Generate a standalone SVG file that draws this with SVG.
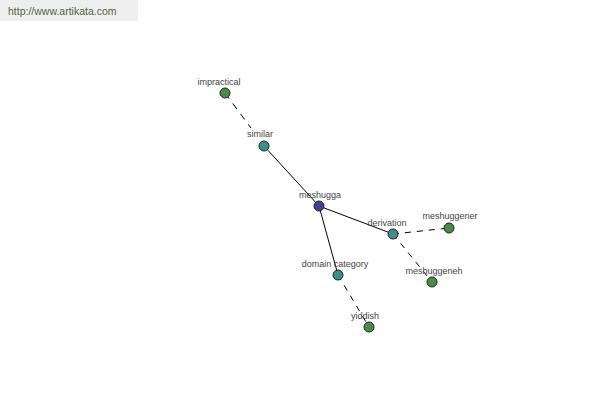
<svg xmlns="http://www.w3.org/2000/svg" width="600" height="400" viewBox="0 0 600 400">
<style>
.lbl{font-family:"Liberation Sans",Arial,sans-serif;font-size:9px;fill:#444;text-anchor:middle}
.solid{stroke:#000;stroke-width:1;fill:none}
.dash{stroke:#000;stroke-width:1;fill:none;stroke-dasharray:6,6}
.n{stroke:#222;stroke-width:1}
.root{fill:#3f4490}
.mid{fill:#3d8f8c}
.leaf{fill:#4a8c47}
</style>
<rect width="600" height="400" fill="#fff"/>
<rect x="0" y="0" width="138" height="21" fill="#eeeeee"/>
<text x="8" y="15" font-family="'Liberation Sans',Arial,sans-serif" font-size="10.5" fill="#4f6641">http://www.artikata.com</text>
<g id="connectors">
<line class="solid" x1="319" y1="206" x2="264" y2="146"/>
<line class="solid" x1="319" y1="206" x2="393" y2="234"/>
<line class="solid" x1="319" y1="206" x2="338" y2="275"/>
<line class="dash" x1="225" y1="93" x2="251" y2="128" style="stroke-dasharray:7,6"/>
<line class="dash" x1="393" y1="234" x2="449" y2="228"/>
<line class="dash" x1="393" y1="234" x2="432" y2="282"/>
<line class="dash" x1="338" y1="275" x2="369" y2="327"/>
</g>
<g id="node-impractical"><circle class="n leaf" cx="225" cy="93" r="5"/><text class="lbl" x="219" y="85">impractical</text></g>
<g id="node-similar"><circle class="n mid" cx="264" cy="146" r="5"/><text class="lbl" x="260" y="137">similar</text></g>
<g id="node-meshugga"><circle class="n root" cx="319" cy="206" r="5"/><text class="lbl" x="320" y="198">meshugga</text></g>
<g id="node-derivation"><circle class="n mid" cx="393" cy="234" r="5"/><text class="lbl" x="387" y="226">derivation</text></g>
<g id="node-meshuggener"><circle class="n leaf" cx="449" cy="228" r="5"/><text class="lbl" x="450" y="219">meshuggener</text></g>
<g id="node-meshuggeneh"><circle class="n leaf" cx="432" cy="282" r="5"/><text class="lbl" x="434" y="274">meshuggeneh</text></g>
<g id="node-domain-category"><circle class="n mid" cx="338" cy="275" r="5"/><text class="lbl" x="335" y="267">domain category</text></g>
<g id="node-yiddish"><circle class="n leaf" cx="369" cy="327" r="5"/><text class="lbl" x="365" y="319">yiddish</text></g>
</svg>
